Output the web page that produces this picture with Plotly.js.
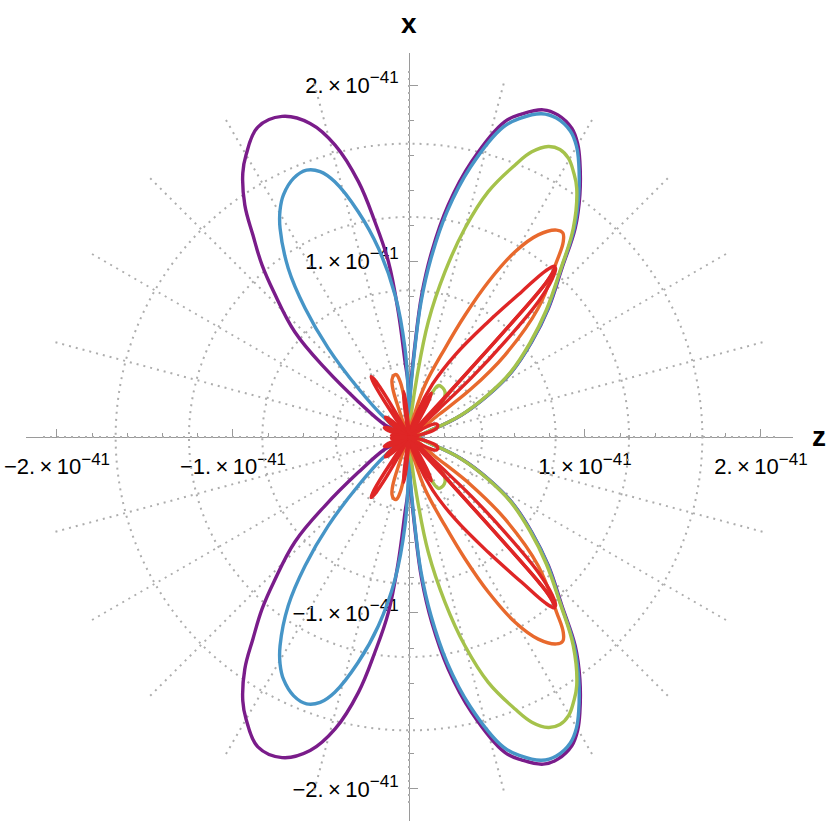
<!DOCTYPE html>
<html>
<head>
<meta charset="utf-8">
<script src="https://cdn.plot.ly/plotly-3.0.1.min.js"></script>
<style>
  html, body { margin: 0; padding: 0; background: #fff; }
  #chart { width: 830px; height: 824px; }
</style>
</head>
<body>
<div id="chart"></div>
<script>
/* Polar lobes, units of 1e-41. Each lobe: [theta (deg from +z), r] for the upper half. */

const purpleLobes = [
  [[14, 0], [18.5, 0.156], [22.7, 0.324], [27.9, 0.51], [32.4, 0.692], [37.8, 0.883],
   [42.7, 1.078], [47.8, 1.293], [51.5, 1.517], [54.8, 1.684], [58.2, 1.842], [60.1, 1.922],
   [62.2, 1.983], [65.2, 2.016], [67.7, 2.009], [70.7, 1.945], [73.1, 1.873], [77.2, 1.604],
   [80.4, 1.337], [83, 1.061], [84.9, 0.81], [86.3, 0.524], [88.6, 0.239], [90, 0]],
  [[90, 0], [91.1, 0.307], [93, 0.428], [94.9, 0.714], [96.7, 1.003], [99, 1.238],
   [101.2, 1.479], [104.2, 1.711], [107.5, 1.868], [111.6, 1.959], [116, 1.959],
   [120, 1.851], [122.2, 1.772], [125.3, 1.614], [127.7, 1.45], [130.5, 1.286],
   [133, 1.126], [137.4, 0.881], [140.7, 0.617], [145.1, 0.351], [153.4, 0.152],
   [156, 0.056], [158, 0]],
];

const blueLobes = [
  [[14, 0], [18.5, 0.155], [22.7, 0.322], [27.9, 0.507], [32.4, 0.688], [37.8, 0.878],
   [42.7, 1.072], [47.8, 1.285], [51.5, 1.505], [54.8, 1.672], [58.2, 1.83], [60.1, 1.908],
   [62.2, 1.965], [65.2, 1.996], [67.7, 1.985], [70.7, 1.92], [73.1, 1.84], [77.2, 1.57],
   [80.4, 1.3], [83, 1.02], [84.9, 0.77], [86.3, 0.49], [88.6, 0.2], [90, 0]],
  [[90, 0], [91, 0.24], [92.6, 0.505], [95.6, 0.811], [99.2, 1.086], [102.7, 1.312],
   [106.2, 1.51], [108.5, 1.59], [111, 1.624], [114, 1.61], [117.4, 1.55], [119.6, 1.483],
   [121.7, 1.394], [125.6, 1.178], [128.9, 0.94], [132.3, 0.681], [136.2, 0.4],
   [142, 0.173], [148, 0]],
];

const greenLobes = [
  [[14, 0], [18.5, 0.153], [22.7, 0.318], [27.9, 0.5], [32.4, 0.68], [37.8, 0.868],
   [42.7, 1.06], [47.8, 1.28], [51.8, 1.509], [56, 1.704], [58.2, 1.773], [60.2, 1.824],
   [62.3, 1.845], [64.4, 1.83], [66.7, 1.764], [68.7, 1.659], [72.1, 1.465], [75, 1.228],
   [77.7, 0.961], [80.5, 0.664], [82.5, 0.336], [84, 0.145], [85.5, 0]],
  [[44, 0], [45, 0.15], [46, 0.24], [47.2, 0.287], [50, 0.32], [53.1, 0.334], [57, 0.34],
   [60.3, 0.336], [62.5, 0.28], [64, 0.15], [65, 0]],
];

const orangeLobes = [
  [[35.5, 0], [36.9, 0.208], [37.8, 0.451], [40.5, 0.717], [44.9, 1.036], [49.9, 1.302],
   [51.7, 1.414], [53, 1.452], [54.5, 1.444], [57.4, 1.363], [60.2, 1.213], [62.9, 0.991],
   [65.3, 0.763], [67.9, 0.544], [72.9, 0.309], [76, 0.15], [78, 0]],
  [[95.5, 0], [97.5, 0.25], [99.5, 0.33], [101.5, 0.362], [104, 0.36], [106.5, 0.34],
   [108.5, 0.29], [110, 0.17], [111.5, 0]],
];

const redLobes = [
  [[47.8, 0], [47.9, 0.4], [48, 0.8], [48.2, 1.1], [48.8, 1.24], [49.6, 1.275],
   [50.6, 1.22], [52.2, 1.045], [55.5, 0.795], [60.7, 0.534], [66, 0.33], [71, 0.15], [75, 0]],
  [[43, 0], [43.2, 0.233], [43.5, 0.488], [44.8, 0.769], [46.3, 1.063], [47.8, 1.21],
   [49, 1.27], [48.3, 1.16], [48, 0.9], [47.9, 0.5], [47.8, 0]],
  [[118, 0], [119.5, 0.25], [121, 0.38], [122, 0.405], [123, 0.38], [124.5, 0.25], [126, 0]],
  [[93.5, 0], [95, 0.18], [96.5, 0.26], [98, 0.2], [99.5, 0]],
  [[134, 0], [137, 0.14], [140, 0.175], [143, 0.14], [146, 0]],
  [[151, 0], [155, 0.12], [159, 0.15], [163, 0.12], [167, 0]],
  [[170, 0], [173, 0.09], [176, 0.1], [179, 0]],
  [[59, 0], [61, 0.22], [63, 0.28], [65, 0.22], [67, 0]],
  [[12, 0], [16, 0.15], [21, 0.175], [26, 0.17], [30, 0.12], [33, 0]],
];

const seriesColors = ['#7a1c8a', '#4695c7', '#a5c24b', '#e8692d', '#df2626'];
const seriesLobes = [purpleLobes, blueLobes, greenLobes, orangeLobes, redLobes];

const gridRadii = [0.4167, 0.8333, 1.25, 1.6667];
const tickVals = [-2, -1, 1, 2];
const tickMant = ['\u22122.', '\u22121.', '1.', '2.'];
const tickText = tickMant.map(m =>
  m + '\u2009\u00d7\u200910<sup><span style="font-size:17px">\u221241</span></sup>');

const FONT = 'Liberation Sans, Arial, sans-serif';
const AXIS_GREY = '#9a9a9a';
const GRID_GREY = '#adadad';

// upper half as read, lower half mirrored across the z axis
function lobeTrace(lobes, color) {
  const theta = [], r = [];
  [1, -1].forEach(sign => {
    lobes.forEach(lobe => {
      lobe.forEach(p => { theta.push(sign * p[0]); r.push(p[1]); });
      theta.push(null); r.push(null);
    });
  });
  return {
    type: 'scatterpolar', mode: 'lines', theta, r,
    line: { color, width: 3.4, shape: 'spline', smoothing: 1.1, simplify: false },
    connectgaps: false, hoverinfo: 'skip', showlegend: false,
  };
}

const traces = [{ type: 'scatter', x: [], y: [], hoverinfo: 'skip', showlegend: false }];
seriesLobes.forEach((l, i) => traces.push(lobeTrace(l, seriesColors[i])));

const axisBase = {
  anchor: 'free', showline: true, linecolor: AXIS_GREY, linewidth: 1,
  zeroline: false, showgrid: false,
  ticks: 'inside', ticklen: 8, tickwidth: 1, tickcolor: AXIS_GREY,
  tickmode: 'array', tickvals: tickVals, ticktext: tickText,
  tickfont: { family: FONT, size: 22, color: '#000' },
  minor: { tickmode: 'linear', tick0: 0, dtick: 0.2, ticks: 'inside', ticklen: 4,
    tickcolor: AXIS_GREY, showgrid: false },
  fixedrange: true,
};

const layout = {
  width: 830, height: 824,
  margin: { l: 0, r: 0, t: 0, b: 0 },
  paper_bgcolor: '#fff', plot_bgcolor: 'rgba(0,0,0,0)',
  showlegend: false,
  xaxis: Object.assign({}, axisBase, {
    domain: [26 / 830, 793 / 830], range: [-2.176, 2.182], position: 387 / 824,
    ticklabelstandoff: 10,
  }),
  yaxis: Object.assign({}, axisBase, {
    domain: [3 / 824, 771 / 824], range: [-2.182, 2.182], position: 409 / 830,
    ticklabelstandoff: 6,
  }),
  polar: {
    domain: { x: [0.05096, 0.93458], y: [0.02464, 0.91468] },
    bgcolor: 'rgba(0,0,0,0)',
    radialaxis: {
      range: [0, 2.0833], tickmode: 'array', tickvals: gridRadii, showticklabels: false,
      ticks: '', showline: false, gridcolor: GRID_GREY, griddash: '2px,5px', gridwidth: 2,
    },
    angularaxis: {
      tickmode: 'linear', tick0: 0, dtick: 15, showticklabels: false, ticks: '',
      showline: false, direction: 'counterclockwise', rotation: 0,
      gridcolor: GRID_GREY, griddash: '2px,5px', gridwidth: 2,
    },
  },
  annotations: [
    { xref: 'paper', yref: 'paper', x: 409 / 830, y: 801 / 824, text: '<b>x</b>',
      xanchor: 'center', yanchor: 'middle',
      showarrow: false, font: { family: FONT, size: 28, color: '#000' } },
    { xref: 'paper', yref: 'paper', x: 819 / 830, y: 387 / 824, text: '<b>z</b>',
      xanchor: 'center', yanchor: 'middle',
      showarrow: false, font: { family: FONT, size: 28, color: '#000' } },
  ],
};

Plotly.newPlot('chart', traces, layout, { staticPlot: true, displayModeBar: false });
</script>
</body>
</html>
